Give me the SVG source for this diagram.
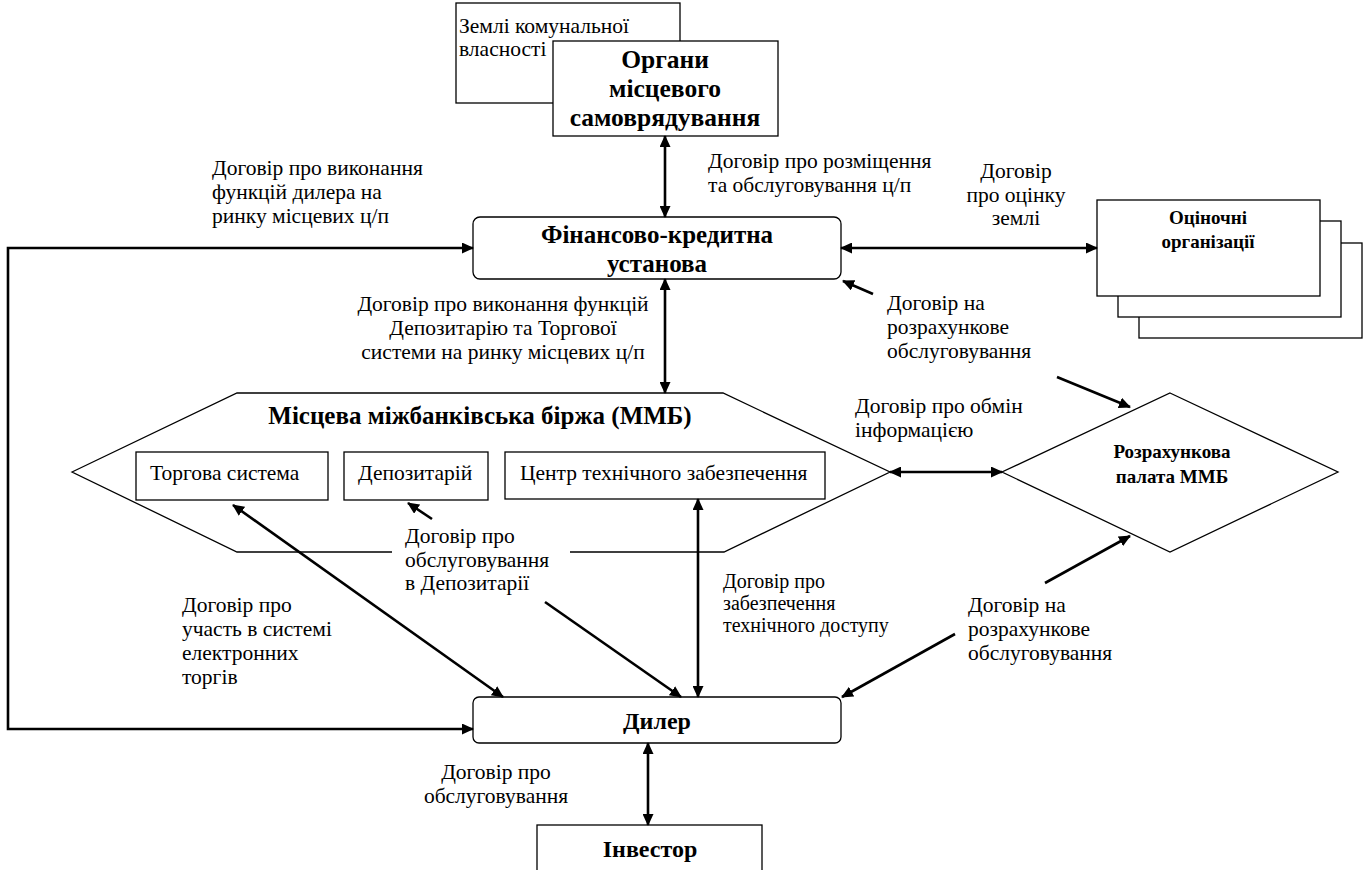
<svg xmlns="http://www.w3.org/2000/svg" width="1366" height="870" viewBox="0 0 1366 870" font-family="'Liberation Serif', Tinos, 'Times New Roman', serif">
<style>
text{font-family:'Liberation Serif',Tinos,'Times New Roman',serif;fill:#000}
.t{font-size:21.5px}
.s{font-size:20px}
.b{font-size:24px;font-weight:bold;text-anchor:middle}
.bl{font-size:25px;font-weight:bold;text-anchor:middle}
.bo{font-size:25.5px;font-weight:bold;text-anchor:middle}
.bs{font-size:19px;font-weight:bold;text-anchor:middle}
.box{fill:#fff;stroke:#000;stroke-width:1.3}
.con{fill:none;stroke:#000;stroke-width:2.6}
</style>
<defs>
<marker id="ah" viewBox="0 0 12 11" refX="11" refY="5.5" markerWidth="12" markerHeight="11" markerUnits="userSpaceOnUse" orient="auto-start-reverse">
<path d="M0,0 L12,5.5 L0,11 z" fill="#000"/>
</marker>
</defs>
<rect width="1366" height="870" fill="#fff"/>

<g id="zemli">
<rect class="box" x="456" y="3" width="224" height="100"/>
<text class="t" x="459" y="33">Землі комунальної</text>
<text class="t" x="459" y="56">власності</text>
</g>
<g id="organy">
<rect class="box" x="553" y="41" width="225" height="95"/>
<text class="bo" x="665" y="68">Органи</text>
<text class="bo" x="665" y="97">місцевого</text>
<text class="bo" x="665" y="126">самоврядування</text>
</g>

<g id="fin">
<rect class="box" x="473" y="217" width="368" height="62" rx="7"/>
<text class="bl" x="657" y="243">Фінансово-кредитна</text>
<text class="bl" x="657" y="272">установа</text>
</g>

<g id="ocinochni">
<rect class="box" x="1139" y="243" width="223" height="95"/>
<rect class="box" x="1118" y="221" width="223" height="96"/>
<rect class="box" x="1097" y="200" width="223" height="96"/>
<text class="bs" x="1208" y="224">Оціночні</text>
<text class="bs" x="1208" y="248">організації</text>
</g>

<g id="mmb">
<polygon class="box" points="72,472 237,393 723,393 890,472 724,552 237,552"/>
<text class="bl" x="480" y="424">Місцева міжбанківська біржа (ММБ)</text>
</g>
<g id="torgova">
<rect class="box" x="136" y="452" width="192" height="48"/>
<text class="t" x="150" y="480">Торгова система</text>
</g>
<g id="depozytarii">
<rect class="box" x="344" y="452" width="144" height="48"/>
<text class="t" x="358" y="480">Депозитарій</text>
</g>
<g id="centr">
<rect class="box" x="505" y="452" width="320" height="47"/>
<text class="t" x="520" y="480">Центр технічного забезпечення</text>
</g>

<g id="palata">
<polygon class="box" points="1170,393 1338,472 1170,552 1002,472"/>
<text class="bs" x="1172" y="458">Розрахункова</text>
<text class="bs" x="1172" y="483">палата ММБ</text>
</g>

<g id="dealer">
<rect class="box" x="473" y="697" width="368" height="46" rx="6"/>
<text class="b" x="657" y="729">Дилер</text>
</g>
<g id="investor">
<rect class="box" x="537" y="825" width="225" height="60"/>
<text class="b" x="650" y="857">Інвестор</text>
</g>

<g id="labels">
<text class="t" x="212" y="175">Договір про виконання</text>
<text class="t" x="212" y="199">функцій дилера на</text>
<text class="t" x="212" y="223">ринку місцевих ц/п</text>

<text class="t" x="708" y="168">Договір про розміщення</text>
<text class="t" x="708" y="192">та обслуговування ц/п</text>

<text class="t" x="1016" y="178" text-anchor="middle">Договір</text>
<text class="t" x="1016" y="202" text-anchor="middle">про оцінку</text>
<text class="t" x="1016" y="225" text-anchor="middle">землі</text>

<text class="t" x="503" y="311" text-anchor="middle">Договір про виконання функцій</text>
<text class="t" x="503" y="335" text-anchor="middle">Депозитарію та Торгової</text>
<text class="t" x="503" y="359" text-anchor="middle">системи на ринку місцевих ц/п</text>

<text class="t" x="887" y="310">Договір на</text>
<text class="t" x="887" y="334">розрахункове</text>
<text class="t" x="887" y="358">обслуговування</text>

<text class="t" x="855" y="413">Договір про обмін</text>
<text class="t" x="855" y="437">інформацією</text>

<rect x="392" y="524" width="178" height="72" fill="#fff"/>
<text class="t" x="405" y="543">Договір про</text>
<text class="t" x="405" y="567">обслуговування</text>
<text class="t" x="405" y="590">в Депозитарії</text>

<text class="t" x="182" y="612">Договір про</text>
<text class="t" x="182" y="636">участь в системі</text>
<text class="t" x="182" y="660">електронних</text>
<text class="t" x="182" y="684">торгів</text>

<text class="s" x="723" y="588">Договір про</text>
<text class="s" x="723" y="610">забезпечення</text>
<text class="s" x="723" y="632">технічного доступу</text>

<text class="t" x="968" y="612">Договір на</text>
<text class="t" x="968" y="636">розрахункове</text>
<text class="t" x="968" y="660">обслуговування</text>

<text class="t" x="496" y="779" text-anchor="middle">Договір про</text>
<text class="t" x="496" y="803" text-anchor="middle">обслуговування</text>
</g>

<g id="connectors">
<line class="con" x1="665" y1="136" x2="665" y2="217" marker-start="url(#ah)" marker-end="url(#ah)"/>
<polyline class="con" points="473,729 8,729 8,248 473,248" marker-start="url(#ah)" marker-end="url(#ah)"/>
<line class="con" x1="841" y1="248" x2="1097" y2="248" marker-start="url(#ah)" marker-end="url(#ah)"/>
<line class="con" x1="665" y1="279" x2="665" y2="393" marker-start="url(#ah)" marker-end="url(#ah)"/>
<line class="con" x1="873" y1="294" x2="843" y2="281" marker-end="url(#ah)"/>
<line class="con" x1="1057" y1="377" x2="1130" y2="407" marker-end="url(#ah)"/>
<line class="con" x1="890" y1="472" x2="1002" y2="472" marker-start="url(#ah)" marker-end="url(#ah)"/>
<line class="con" x1="233" y1="505" x2="503" y2="697" marker-start="url(#ah)" marker-end="url(#ah)"/>
<line class="con" x1="432" y1="519" x2="408" y2="503" marker-end="url(#ah)"/>
<line class="con" x1="545" y1="602" x2="681" y2="697" marker-end="url(#ah)"/>
<line class="con" x1="698" y1="499" x2="698" y2="697" marker-start="url(#ah)" marker-end="url(#ah)"/>
<line class="con" x1="955" y1="634" x2="842" y2="697" marker-end="url(#ah)"/>
<line class="con" x1="1045" y1="583" x2="1130" y2="536" marker-end="url(#ah)"/>
<line class="con" x1="648" y1="743" x2="648" y2="825" marker-start="url(#ah)" marker-end="url(#ah)"/>
</g>
</svg>
